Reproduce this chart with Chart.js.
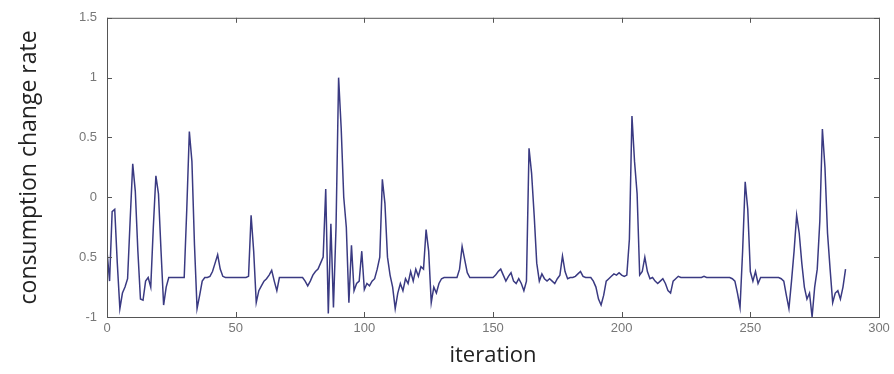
<!DOCTYPE html>
<html>
<head>
<meta charset="utf-8">
<script src="https://cdn.jsdelivr.net/npm/chart.js@4/dist/chart.umd.min.js"></script>
<style>
  html, body { margin: 0; padding: 0; background: #fff; }
  #wrap { width: 894px; height: 374px; }
</style>
</head>
<body>
<div id="wrap"><canvas id="chart"></canvas></div>
<script>
// consumption change rate per iteration
const rate = [
  -0.45, -0.7, -0.12, -0.1, -0.55, -0.93, -0.8, -0.75, -0.68, -0.19,
  0.28, 0.05, -0.45, -0.85, -0.86, -0.7, -0.67, -0.75, -0.25, 0.18,
  0.03, -0.45, -0.9, -0.75, -0.67, -0.67, -0.67, -0.67, -0.67, -0.67,
  -0.67, -0.1, 0.55, 0.3, -0.4, -0.93, -0.82, -0.7, -0.67, -0.67,
  -0.66, -0.62, -0.55, -0.48, -0.6, -0.66, -0.67, -0.67, -0.67, -0.67,
  -0.67, -0.67, -0.67, -0.67, -0.67, -0.66, -0.15, -0.45, -0.88, -0.78,
  -0.74, -0.7, -0.68, -0.65, -0.61, -0.7, -0.78, -0.67, -0.67, -0.67,
  -0.67, -0.67, -0.67, -0.67, -0.67, -0.67, -0.67, -0.7, -0.74, -0.7,
  -0.65, -0.62, -0.6, -0.55, -0.5, 0.07, -0.97, -0.22, -0.92, -0.25,
  1.0, 0.58, 0.0, -0.25, -0.88, -0.4, -0.78, -0.72, -0.7, -0.45,
  -0.77, -0.72, -0.74, -0.7, -0.68, -0.6, -0.5, 0.15, -0.05, -0.5,
  -0.65, -0.75, -0.93, -0.8, -0.72, -0.78, -0.68, -0.72, -0.62, -0.7,
  -0.6, -0.66, -0.58, -0.6, -0.27, -0.45, -0.88, -0.75, -0.8, -0.72,
  -0.68, -0.67, -0.67, -0.67, -0.67, -0.67, -0.67, -0.6, -0.41, -0.52,
  -0.63, -0.67, -0.67, -0.67, -0.67, -0.67, -0.67, -0.67, -0.67, -0.67,
  -0.67, -0.65, -0.62, -0.6, -0.65, -0.7, -0.66, -0.63, -0.7, -0.72,
  -0.68, -0.72, -0.78, -0.7, 0.41, 0.2, -0.15, -0.55, -0.7, -0.64,
  -0.68, -0.7, -0.68, -0.7, -0.72, -0.68, -0.65, -0.49, -0.62, -0.68,
  -0.67, -0.67, -0.66, -0.64, -0.62, -0.66, -0.67, -0.67, -0.67, -0.7,
  -0.75, -0.85, -0.9, -0.82, -0.7, -0.68, -0.66, -0.64, -0.65, -0.63,
  -0.65, -0.66, -0.65, -0.35, 0.68, 0.3, 0.03, -0.65, -0.62, -0.5,
  -0.62, -0.68, -0.67, -0.7, -0.72, -0.7, -0.68, -0.72, -0.78, -0.8,
  -0.7, -0.68, -0.66, -0.67, -0.67, -0.67, -0.67, -0.67, -0.67, -0.67,
  -0.67, -0.67, -0.66, -0.67, -0.67, -0.67, -0.67, -0.67, -0.67, -0.67,
  -0.67, -0.67, -0.67, -0.68, -0.7, -0.8, -0.92, -0.45, 0.13, -0.1,
  -0.62, -0.7, -0.62, -0.72, -0.67, -0.67, -0.67, -0.67, -0.67, -0.67,
  -0.67, -0.67, -0.68, -0.7, -0.82, -0.93, -0.7, -0.45, -0.15, -0.3,
  -0.55, -0.75, -0.85, -0.8, -1.0, -0.75, -0.6, -0.2, 0.57, 0.25,
  -0.3, -0.6, -0.88, -0.8, -0.78, -0.85, -0.75, -0.6
];

const xTicks = [0, 50, 100, 150, 200, 250, 300];
const yTicks = [-1, -0.5, 0, 0.5, 1, 1.5];
// the labels as printed (the minus on -0.5 is lost in the original)
const yTickLabels = ['-1', '0.5', '0', '0.5', '1', '1.5'];

const points = rate.map((v, i) => ({ x: i, y: v }));

// matlab style box with inward ticks on all four sides
const boxPlugin = {
  id: 'box',
  afterDraw(chart) {
    const { ctx, chartArea: a, scales } = chart;
    ctx.save();
    ctx.strokeStyle = '#555';
    ctx.lineWidth = 1;
    ctx.strokeRect(a.left + 0.5, a.top + 0.5, a.right - a.left, a.bottom - a.top);
    ctx.beginPath();
    xTicks.forEach((t) => {
      const px = Math.round(scales.x.getPixelForValue(t)) + 0.5;
      ctx.moveTo(px, a.bottom); ctx.lineTo(px, a.bottom - 5);
      ctx.moveTo(px, a.top); ctx.lineTo(px, a.top + 5);
    });
    yTicks.forEach((t) => {
      const py = Math.round(scales.y.getPixelForValue(t)) + 0.5;
      ctx.moveTo(a.left, py); ctx.lineTo(a.left + 5, py);
      ctx.moveTo(a.right, py); ctx.lineTo(a.right - 5, py);
    });
    ctx.stroke();
    ctx.restore();
  },
};

new Chart(document.getElementById('chart'), {
  type: 'line',
  data: {
    datasets: [
      {
        data: points,
        borderColor: '#3a3a82',
        borderWidth: 1.5,
        pointRadius: 0,
        tension: 0,
        fill: false,
      },
    ],
  },
  options: {
    responsive: true,
    maintainAspectRatio: false,
    animation: false,
    layout: { padding: { top: 17, right: 15, left: 0, bottom: 0 } },
    plugins: { legend: { display: false }, tooltip: { enabled: false } },
    scales: {
      x: {
        type: 'linear',
        min: 0,
        max: 300,
        afterBuildTicks: (scale) => { scale.ticks = xTicks.map((v) => ({ value: v })); },
        afterFit: (scale) => { scale.height = 57; },
        grid: { display: false, drawTicks: false },
        border: { display: false },
        ticks: {
          padding: 4,
          color: '#777',
          font: { family: 'Liberation Sans', size: 13 },
          maxRotation: 0,
        },
        title: {
          display: true,
          text: 'iteration',
          color: '#222',
          font: { family: 'Open Sans', size: 22 },
          padding: { top: 0, bottom: 5 },
        },
      },
      y: {
        min: -1,
        max: 1.5,
        afterBuildTicks: (scale) => { scale.ticks = yTicks.map((v) => ({ value: v })); },
        afterFit: (scale) => { scale.width = 107; },
        grid: { display: false, drawTicks: false },
        border: { display: false },
        ticks: {
          padding: 10,
          color: '#777',
          font: { family: 'Liberation Sans', size: 13 },
          callback: (value, index) => yTickLabels[index],
        },
        title: {
          display: true,
          text: 'consumption change rate',
          color: '#222',
          font: { family: 'Open Sans', size: 23 },
          padding: { top: 16, bottom: 0 },
        },
      },
    },
  },
  plugins: [boxPlugin],
});
</script>
</body>
</html>
